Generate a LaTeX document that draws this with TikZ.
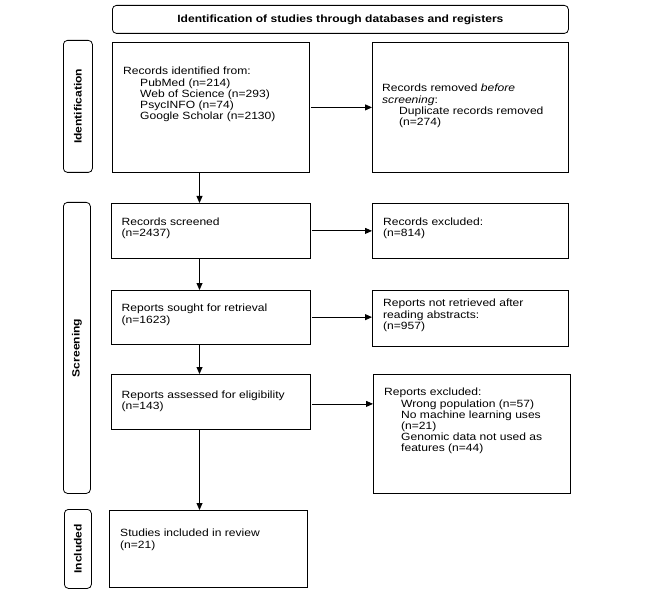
\documentclass[tikz,border=0pt]{standalone}
\usepackage{fontspec}
\setmainfont[FakeStretch=1.15]{Liberation Sans}
\usetikzlibrary{positioning,arrows.meta}
\newcommand{\ind}{\hspace*{17pt}}

\begin{document}
\begin{tikzpicture}[x=1pt,y=-1pt]
\tikzstyle{every node}+=[inner sep=0pt,font=\fontsize{10.5}{11.2}\selectfont]
\tikzstyle{box}=[draw=black,line width=0.8pt,anchor=north west]
\tikzstyle{phase}=[box,rounded corners=4pt]
\tikzstyle{txt}=[align=left]
\tikzstyle{arr}=[line width=0.8pt,-{Triangle[length=7pt,width=6pt]}]
\useasboundingbox (0,0) rectangle (662,591);
% header
\node[phase,minimum width=456pt,minimum height=28pt,font=\fontsize{10.5}{11.2}\selectfont\bfseries] (head) at (112,5) {Identification of studies through databases and registers};
% phases
\node[phase,minimum width=29pt,minimum height=132pt] (idside) at (63,40) {};
\node[phase,minimum width=27pt,minimum height=291pt] (scside) at (63,202) {};
\node[phase,minimum width=27pt,minimum height=79pt] (inside) at (64,509) {};
\node[rotate=90,font=\fontsize{10.5}{11.2}\selectfont\bfseries] (idlbl) at (idside.center) {Identification};
\node[rotate=90,font=\fontsize{10.5}{11.2}\selectfont\bfseries] (sclbl) at (scside.center) {Screening};
\node[rotate=90,font=\fontsize{10.5}{11.2}\selectfont\bfseries] (inlbl) at (inside.center) {Included};
% boxes
\node[box,minimum width=197pt,minimum height=130pt] (ident) at (112,42) {};
\node[box,minimum width=196pt,minimum height=130pt] (removed) at (372,42) {};
\node[box,minimum width=199pt,minimum height=55pt] (screened) at (111,203) {};
\node[box,minimum width=196pt,minimum height=55pt] (excl1) at (372,203) {};
\node[box,minimum width=199pt,minimum height=53.5pt] (sought) at (111,290) {};
\node[box,minimum width=196pt,minimum height=56pt] (notret) at (372,290) {};
\node[box,minimum width=199pt,minimum height=55pt] (assessed) at (111,374) {};
\node[box,minimum width=197pt,minimum height=119pt] (excl2) at (373,374) {};
\node[box,minimum width=198pt,minimum height=77pt] (incl) at (109,510) {};
% texts
\node[txt,below right=25pt and 11pt of ident.north west] (identtxt) {Records identified from:\\\ind PubMed (n=214)\\\ind Web of Science (n=293)\\\ind PsycINFO (n=74)\\\ind Google Scholar (n=2130)};
\node[txt,below right=42pt and 10pt of removed.north west] (removedtxt) {Records removed \textit{before}\\\textit{screening}:\\\ind Duplicate records removed\\\ind (n=274)};
\node[txt,below right=14.5pt and 10.5pt of screened.north west] (screenedtxt) {Records screened\\(n=2437)};
\node[txt,below right=14.5pt and 11pt of excl1.north west] (excl1txt) {Records excluded:\\(n=814)};
\node[txt,below right=14pt and 10.5pt of sought.north west] (soughttxt) {Reports sought for retrieval\\(n=1623)};
\node[txt,below right=9pt and 11pt of notret.north west] (notrettxt) {Reports not retrieved after\\reading abstracts:\\(n=957)};
\node[txt,below right=16.5pt and 10.5pt of assessed.north west] (assessedtxt) {Reports assessed for eligibility\\(n=143)};
\node[txt,below right=14pt and 11pt of excl2.north west] (excl2txt) {Reports excluded:\\\ind Wrong population (n=57)\\\ind No machine learning uses\\\ind (n=21)\\\ind Genomic data not used as\\\ind features (n=44)};
\node[txt,below right=19pt and 11pt of incl.north west] (incltxt) {Studies included in review\\(n=21)};
% arrows
\coordinate (spine) at (199.5,0);
\draw[arr] (ident.south -| spine) -- (screened.north -| spine);
\draw[arr] (screened.south -| spine) -- (sought.north -| spine);
\draw[arr] (sought.south -| spine) -- (assessed.north -| spine);
\draw[arr] (assessed.south -| spine) -- (incl.north -| spine);
\draw[arr,shorten <=1pt] (ident.east) -- (removed.west);
\draw[arr,shorten <=1pt] (screened.east) -- (excl1.west);
\draw[arr,shorten <=1pt] (sought.east) -- (sought.east -| notret.west);
\draw[arr,shorten <=1pt] ([yshift=-2pt]assessed.east) -- ([yshift=-2pt]assessed.east -| excl2.west);
\end{tikzpicture}
\end{document}
